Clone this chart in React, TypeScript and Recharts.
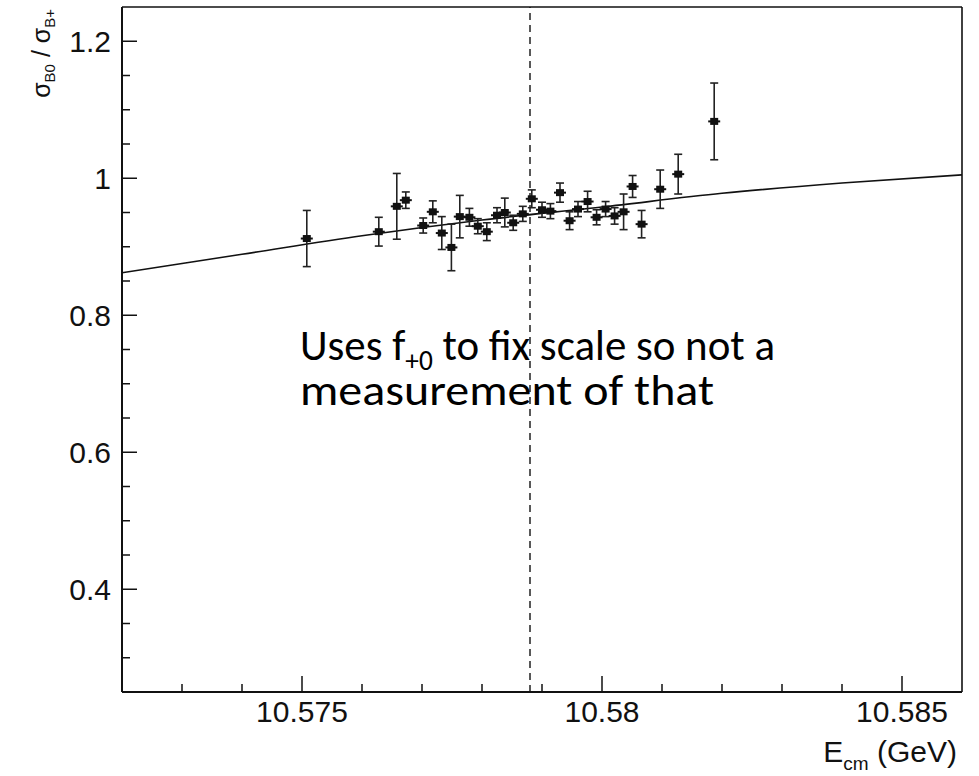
import React from 'react';
import { ComposedChart, Line, Scatter, XAxis, YAxis, ErrorBar, ReferenceLine } from 'recharts';

// Measured points: centre-of-mass energy (GeV), ratio and its error
const energies = [
  10.57508, 10.57628, 10.57658, 10.57673, 10.57702, 10.57718, 10.57733, 10.57749,
  10.57763, 10.57779, 10.57793, 10.57808, 10.57825, 10.57838, 10.57852, 10.57868,
  10.57883, 10.579, 10.57914, 10.5793, 10.57946, 10.5796, 10.57976, 10.57991,
  10.58006, 10.58021, 10.58036, 10.58051, 10.58066, 10.58097, 10.58127, 10.58187,
];
const ratios = [
  0.912, 0.922, 0.959, 0.968, 0.931, 0.951, 0.92, 0.899,
  0.944, 0.943, 0.93, 0.922, 0.946, 0.95, 0.935, 0.948,
  0.97, 0.954, 0.952, 0.979, 0.938, 0.955, 0.966, 0.943,
  0.955, 0.945, 0.951, 0.988, 0.933, 0.984, 1.006, 1.083,
];
const ratioErrors = [
  0.041, 0.021, 0.048, 0.012, 0.011, 0.016, 0.024, 0.034,
  0.031, 0.013, 0.011, 0.013, 0.011, 0.021, 0.011, 0.011,
  0.013, 0.011, 0.011, 0.014, 0.013, 0.011, 0.015, 0.011,
  0.011, 0.012, 0.026, 0.016, 0.02, 0.028, 0.029, 0.056,
];

// Fitted curve
const fitEnergies = [10.572, 10.574, 10.576, 10.578, 10.58, 10.582, 10.584, 10.586];
const fitRatios = [0.862, 0.889, 0.916, 0.939, 0.958, 0.978, 0.993, 1.005];

// Axes
const xDomain = [10.572, 10.586];
const yDomain = [0.25, 1.25];
const xTicks = [10.573, 10.574, 10.575, 10.576, 10.577, 10.578, 10.579, 10.58, 10.581, 10.582, 10.583, 10.584, 10.585];
const xMajorTicks = [10.575, 10.58, 10.585];
const xTickLabels = ['10.575', '10.58', '10.585'];
const yTicks = [0.3, 0.35, 0.4, 0.45, 0.5, 0.55, 0.6, 0.65, 0.7, 0.75, 0.8, 0.85, 0.9, 0.95, 1, 1.05, 1.1, 1.15, 1.2];
const yMajorTicks = [0.4, 0.6, 0.8, 1, 1.2];
const yTickLabels = ['0.4', '0.6', '0.8', '1', '1.2'];
const dividerEnergy = 10.5788;

const pointData = energies.map((E, i) => ({ E, v: ratios[i], err: ratioErrors[i] }));
const fitData = fitEnergies.map((E, i) => ({ E, v: fitRatios[i] }));

const AXIS_FONT = "'Liberation Sans', Arial, Helvetica, sans-serif";
const NOTE_FONT = "Carlito, Calibri, Lato, 'Open Sans', sans-serif";

const majorIndex = (v: number, majors: number[]) => majors.findIndex((m) => Math.abs(m - v) < 1e-7);

const XTick = (props: any) => {
  const { x, y, payload } = props;
  const idx = majorIndex(payload.value, xMajorTicks);
  const major = idx >= 0;
  return (
    <g>
      <line x1={x} y1={y} x2={x} y2={y - (major ? 16 : 8)} stroke="#111" strokeWidth={1.5} />
      {major && (
        <text x={x} y={y + 30} textAnchor="middle" fontSize={30} fontFamily={AXIS_FONT} fill="#111">
          {xTickLabels[idx]}
        </text>
      )}
    </g>
  );
};

const YTick = (props: any) => {
  const { x, y, payload } = props;
  const idx = majorIndex(payload.value, yMajorTicks);
  const major = idx >= 0;
  return (
    <g>
      <line x1={x} y1={y} x2={x + (major ? 15 : 8)} y2={y} stroke="#111" strokeWidth={1.5} />
      {major && (
        <text x={x - 11} y={y + 11} textAnchor="end" fontSize={30} fontFamily={AXIS_FONT} fill="#111">
          {yTickLabels[idx]}
        </text>
      )}
    </g>
  );
};

const PointShape = (props: any) => {
  const { cx, cy } = props;
  if (cx == null || cy == null) return null;
  return (
    <g>
      <line x1={cx - 6} y1={cy} x2={cx + 6} y2={cy} stroke="#111" strokeWidth={2} />
      <rect x={cx - 4} y={cy - 3.5} width={8} height={7} fill="#111" />
    </g>
  );
};

export default function App() {
  return (
    <div style={{ position: 'absolute', left: 0, top: 0, width: 979, height: 776, background: '#fff' }}>
      <ComposedChart width={979} height={776} margin={{ top: 6, right: 16, bottom: 83, left: 121 }}>
        <XAxis
          xAxisId="main"
          type="number"
          dataKey="E"
          domain={xDomain}
          ticks={xTicks}
          interval={0}
          allowDataOverflow
          height={1}
          tickSize={0}
          tickMargin={0}
          tickLine={false}
          tick={<XTick />}
          axisLine={{ stroke: '#111', strokeWidth: 2 }}
        />
        <XAxis
          xAxisId="top"
          orientation="top"
          type="number"
          dataKey="E"
          domain={xDomain}
          allowDataOverflow
          height={1}
          tick={false}
          tickLine={false}
          axisLine={{ stroke: '#111', strokeWidth: 1.6 }}
        />
        <YAxis
          yAxisId="main"
          type="number"
          domain={yDomain}
          ticks={yTicks}
          interval={0}
          allowDataOverflow
          width={1}
          tickSize={0}
          tickMargin={0}
          tickLine={false}
          tick={<YTick />}
          axisLine={{ stroke: '#111', strokeWidth: 2 }}
        />
        <YAxis
          yAxisId="right"
          orientation="right"
          type="number"
          domain={yDomain}
          allowDataOverflow
          width={1}
          tick={false}
          tickLine={false}
          axisLine={{ stroke: '#111', strokeWidth: 1.6 }}
        />
        <ReferenceLine
          xAxisId="main"
          yAxisId="main"
          x={dividerEnergy}
          stroke="#222"
          strokeWidth={1.5}
          strokeDasharray="7 5"
        />
        <Line
          xAxisId="main"
          yAxisId="main"
          data={fitData}
          dataKey="v"
          type="monotone"
          dot={false}
          activeDot={false}
          stroke="#111"
          strokeWidth={1.6}
          isAnimationActive={false}
        />
        <Scatter
          xAxisId="main"
          yAxisId="main"
          data={pointData}
          dataKey="v"
          shape={<PointShape />}
          isAnimationActive={false}
        >
          <ErrorBar dataKey="err" direction="y" width={4} stroke="#222" strokeWidth={1.6} isAnimationActive={false} />
        </Scatter>
      </ComposedChart>
      <svg
        width={979}
        height={776}
        style={{ position: 'absolute', left: 0, top: 0, pointerEvents: 'none' }}
      >
        <text transform="translate(50, 9) rotate(-90)" textAnchor="end" fontFamily={AXIS_FONT} fontSize={25} fill="#111">
          σ
          <tspan fontSize={15} dy={5}>B0</tspan>
          <tspan fontSize={25} dy={-5}> / σ</tspan>
          <tspan fontSize={15} dy={5}>B+</tspan>
        </text>
        <text x={957} y={762} textAnchor="end" fontFamily={AXIS_FONT} fontSize={30} fill="#111">
          E
          <tspan fontSize={19} dy={8}>cm</tspan>
          <tspan fontSize={30} dy={-8}>{'  (GeV)'}</tspan>
        </text>
        <text x={300} y={360} fontFamily={NOTE_FONT} fontSize={44} fill="#000" textLength={475} lengthAdjust="spacingAndGlyphs">
          Uses f
          <tspan fontSize={28} dy={10}>+0</tspan>
          <tspan fontSize={44} dy={-10}> to fix scale so not a</tspan>
        </text>
        <text x={300} y={405} fontFamily={NOTE_FONT} fontSize={44} fill="#000" textLength={414} lengthAdjust="spacingAndGlyphs">
          measurement of that
        </text>
      </svg>
    </div>
  );
}
